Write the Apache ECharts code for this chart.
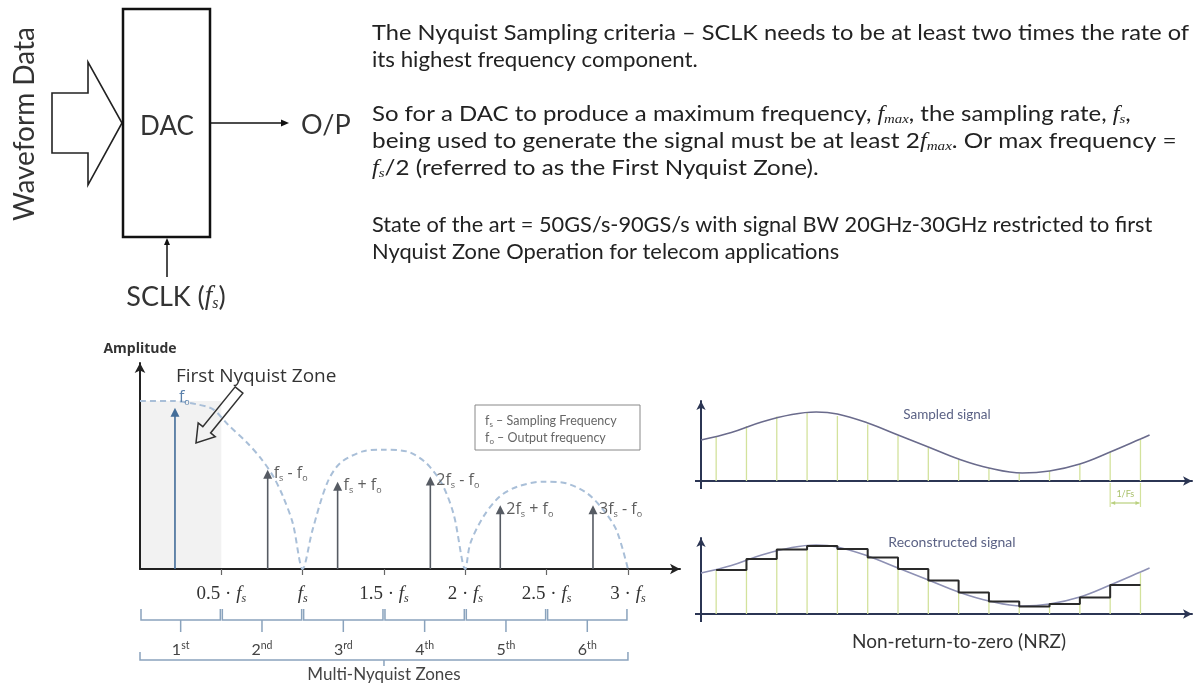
<!DOCTYPE html>
<html><head><meta charset="utf-8">
<script src="https://cdn.jsdelivr.net/npm/echarts@6/dist/echarts.min.js"></script>
<style>html,body{margin:0;padding:0;background:#fff}#c{width:1196px;height:685px}</style>
</head><body><div id="c"></div>
<script>
// ---------- spectrum (units of fs) ----------
const stemLabels = ['f_o', 'f_s - f_o', 'f_s + f_o', '2f_s - f_o', '2f_s + f_o', '3f_s - f_o'];
const stemFreq = [0.215, 0.785, 1.215, 1.785, 2.215, 2.785];
const stemAmp = [0.96, 0.59, 0.52, 0.55, 0.38, 0.38];
const envFreq = [0, 0.2, 0.35, 0.45, 0.54, 0.66, 0.75, 0.82, 0.88, 0.94, 1.0,
  1.06, 1.15, 1.23, 1.37, 1.49, 1.64, 1.76, 1.86, 1.93, 2.0,
  2.03, 2.11, 2.21, 2.32, 2.48, 2.62, 2.75, 2.85, 2.93, 3.0];
const envAmp = [1.0, 1.0, 0.98, 0.95, 0.86, 0.75, 0.65, 0.55, 0.43, 0.27, 0.0,
  0.23, 0.51, 0.63, 0.70, 0.71, 0.70, 0.63, 0.50, 0.32, 0.0,
  0.15, 0.31, 0.43, 0.49, 0.52, 0.51, 0.45, 0.35, 0.23, 0.0];
const freqTicks = [0.5, 1, 1.5, 2, 2.5, 3];
const freqTickPrefix = ['0.5 · ', '', '1.5 · ', '2 · ', '2.5 · ', '3 · '];
const firstZone = [0, 0.5];
const zoneNums = ['1', '2', '3', '4', '5', '6'];
const zoneSuffix = ['st', 'nd', 'rd', 'th', 'th', 'th'];
const legendLines = ['f_s – Sampling Frequency', 'f_o – Output frequency'];

// ---------- sampled / reconstructed signal (time in sample periods) ----------
const sampleT = [0.5, 1.5, 2.5, 3.5, 4.5, 5.5, 6.5, 7.5, 8.5, 9.5, 10.5, 11.5, 12.5, 13.5, 14.5];
const sampleV = [4.4, 5.5, 6.45, 6.8, 6.5, 5.65, 4.5, 3.35, 2.15, 1.25, 0.75, 1.0, 1.65, 2.9, 4.1];
const curveT = [0, 1, 2, 3, 3.8, 4.5, 5.5, 6.5, 7.5, 8.5, 9.5, 10.6, 11.5, 12.5, 13.5, 14.5, 14.8];
const curveV = [4.1, 4.85, 5.9, 6.65, 6.9, 6.7, 5.8, 4.6, 3.4, 2.2, 1.3, 0.8, 1.0, 1.7, 2.9, 4.2, 4.6];

const SANS = 'Lato, "Noto Sans", sans-serif';
const WIDE = '"Open Sans", Lato, sans-serif';
const SERIF = '"Liberation Serif", "DejaVu Serif", serif';

function richSub(label) {
  const parts = []; let buf = '';
  for (let i = 0; i < label.length; i++) {
    if (label[i] === '_') { if (buf) parts.push('{m|' + buf + '}'); buf = ''; parts.push('{b|' + label[i + 1] + '}'); i++; }
    else buf += label[i];
  }
  if (buf) parts.push('{m|' + buf + '}');
  return parts.join('');
}

const chart = echarts.init(document.getElementById('c'));

function hollowArrow(tx, ty, px, py, sw, hw, hl) {
  const dx = px - tx, dy = py - ty, L = Math.hypot(dx, dy);
  const ux = dx / L, uy = dy / L, nx = -uy, ny = ux;
  const bx = px - hl * ux, by = py - hl * uy;
  return [[tx + sw * nx, ty + sw * ny], [bx + sw * nx, by + sw * ny], [bx + hw * nx, by + hw * ny], [px, py],
    [bx - hw * nx, by - hw * ny], [bx - sw * nx, by - sw * ny], [tx - sw * nx, ty - sw * ny]];
}

const textRich = {
  i: { fontFamily: SERIF, fontStyle: 'italic', fontSize: 21, lineHeight: 24, fill: '#222' },
  s: { fontFamily: SERIF, fontStyle: 'italic', fontSize: 13, lineHeight: 10, verticalAlign: 'bottom', fill: '#222' }
};
function para(y, sx, text) {
  return { type: 'text', x: 372, y: y, scaleX: sx, style: { text: text, fontSize: 21, fontFamily: SANS, fill: '#222', verticalAlign: 'middle', rich: textRich } };
}

const graphic = [
  // block diagram
  { type: 'text', x: 25, y: 124, rotation: Math.PI / 2, style: { text: 'Waveform Data', fontSize: 28, fontFamily: SANS, fill: '#333', align: 'center', verticalAlign: 'middle' } },
  { type: 'polygon', shape: { points: [[52, 93], [88, 93], [88, 62], [122, 123], [88, 185], [88, 153], [52, 153]] }, style: { fill: '#fff', stroke: '#222', lineWidth: 1.6 } },
  { type: 'rect', shape: { x: 123, y: 9, width: 87, height: 228 }, style: { fill: 'none', stroke: '#111', lineWidth: 2.5 } },
  { type: 'text', x: 167, y: 127, style: { text: 'DAC', fontSize: 26, fontFamily: SANS, fill: '#333', align: 'center', verticalAlign: 'middle' } },
  { type: 'line', shape: { x1: 211, y1: 123, x2: 282, y2: 123 }, style: { stroke: '#111', lineWidth: 1.5 } },
  { type: 'polygon', shape: { points: [[289, 123], [281, 119.5], [281, 126.5]] }, style: { fill: '#111' } },
  { type: 'text', x: 301, y: 125, style: { text: 'O/P', fontSize: 27, fontFamily: SANS, fill: '#333', verticalAlign: 'middle' } },
  { type: 'line', shape: { x1: 167, y1: 277, x2: 167, y2: 244 }, style: { stroke: '#111', lineWidth: 1.5 } },
  { type: 'polygon', shape: { points: [[167, 238], [164, 245], [170, 245]] }, style: { fill: '#111' } },
  { type: 'text', x: 176, y: 297, style: { text: 'SCLK ({i|f}{s|s})', fontSize: 27, fontFamily: SANS, fill: '#333', align: 'center', verticalAlign: 'middle',
    rich: { i: { fontFamily: SERIF, fontStyle: 'italic', fontSize: 27, lineHeight: 30, fill: '#333' }, s: { fontFamily: SERIF, fontStyle: 'italic', fontSize: 16, lineHeight: 14, verticalAlign: 'bottom', fill: '#333' } } } },
  // explanatory text
  para(33, 1.124, 'The Nyquist Sampling criteria – SCLK needs to be at least two times the rate of'),
  para(60, 1.06, 'its highest frequency component.'),
  para(114, 1.14, 'So for a DAC to produce a maximum frequency, {i|f}{s|max}, the sampling rate, {i|f}{s|s},'),
  para(141, 1.16, 'being used to generate the signal must be at least 2{i|f}{s|max}. Or max frequency ='),
  para(168, 1.15, '{i|f}{s|s}/2 (referred to as the First Nyquist Zone).'),
  para(225, 1.035, 'State of the art = 50GS/s-90GS/s with signal BW 20GHz-30GHz restricted to first'),
  para(252, 1.04, 'Nyquist Zone Operation for telecom applications'),
  // spectrum annotations
  { type: 'text', x: 176, y: 377, style: { text: 'First Nyquist Zone', fontSize: 19, fontFamily: WIDE, fill: '#333', verticalAlign: 'middle' } },
  { type: 'polygon', shape: { points: hollowArrow(239, 390, 196, 443, 5, 11, 17) }, style: { fill: '#fff', stroke: '#333', lineWidth: 1.5 } },
  { type: 'rect', shape: { x: 475, y: 405, width: 165, height: 45 }, style: { fill: '#fff', stroke: '#888', lineWidth: 1 } },
  { type: 'text', x: 485, y: 421, style: { text: richSub(legendLines[0]), verticalAlign: 'middle',
    rich: { m: { fontSize: 12.5, fontFamily: SANS, fill: '#666', lineHeight: 14 }, b: { fontSize: 8, fontFamily: SANS, fill: '#666', lineHeight: 8, verticalAlign: 'bottom' } } } },
  { type: 'text', x: 485, y: 438, style: { text: richSub(legendLines[1]), verticalAlign: 'middle',
    rich: { m: { fontSize: 12.5, fontFamily: SANS, fill: '#666', lineHeight: 14 }, b: { fontSize: 8, fontFamily: SANS, fill: '#666', lineHeight: 8, verticalAlign: 'bottom' } } } },
  // right panel texts
  { type: 'text', x: 947, y: 415, style: { text: 'Sampled signal', fontSize: 13.5, fontFamily: SANS, fill: '#5b6285', align: 'center', verticalAlign: 'middle' } },
  { type: 'text', x: 952, y: 542, style: { text: 'Reconstructed signal', fontSize: 14, fontFamily: SANS, fill: '#5b6285', align: 'center', verticalAlign: 'middle' } },
  { type: 'text', x: 959, y: 642, style: { text: 'Non-return-to-zero (NRZ)', fontSize: 19, fontFamily: SANS, fill: '#333', align: 'center', verticalAlign: 'middle' } }
];

const axisDark = { show: true, symbol: ['none', 'arrow'], symbolSize: [8, 10], lineStyle: { color: '#222', width: 2 } };
const axisNavy = { show: true, symbol: ['none', 'arrow'], symbolSize: [7, 9], lineStyle: { color: '#2b3553', width: 2 } };
const hiddenBits = { axisTick: { show: false }, axisLabel: { show: false }, splitLine: { show: false } };

function stemItem(color) {
  return (params, api) => {
    const b = api.coord([api.value(0), 0]), t = api.coord([api.value(0), api.value(1)]);
    return { type: 'line', shape: { x1: b[0], y1: b[1], x2: t[0], y2: t[1] }, style: { stroke: color, lineWidth: 1.3 } };
  };
}
function originOverhang(params, api) {
  const o = api.coord([0, 0]);
  return { type: 'group', children: [
    { type: 'line', shape: { x1: o[0] - 6, y1: o[1], x2: o[0], y2: o[1] }, style: { stroke: '#2b3553', lineWidth: 2 } },
    { type: 'line', shape: { x1: o[0], y1: o[1], x2: o[0], y2: o[1] + 8 }, style: { stroke: '#2b3553', lineWidth: 2 } }
  ] };
}

const option = {
  animation: false,
  backgroundColor: '#fff',
  graphic: graphic,
  grid: [
    { left: 140, top: 363, width: 540, height: 206 },
    { left: 701, top: 401, width: 491, height: 80 },
    { left: 701, top: 538, width: 491, height: 76 }
  ],
  xAxis: [
    { gridIndex: 0, type: 'value', min: 0, max: 3.32, interval: 0.5, axisLine: axisDark, splitLine: { show: false },
      axisTick: { show: true, customValues: freqTicks, length: 6, lineStyle: { color: '#666', width: 1.2 } },
      axisLabel: { show: true, customValues: freqTicks, margin: 14,
        formatter: v => { const i = freqTicks.indexOf(v); return (freqTickPrefix[i] ? '{n|' + freqTickPrefix[i] + '}' : '') + '{f|f}{s|s}'; },
        rich: { n: { fontFamily: SERIF, fontSize: 19, color: '#333', lineHeight: 22 },
                f: { fontFamily: SERIF, fontStyle: 'italic', fontSize: 19, color: '#333', lineHeight: 22 },
                s: { fontFamily: SERIF, fontStyle: 'italic', fontSize: 12, color: '#333', lineHeight: 10, verticalAlign: 'bottom' } } } },
    Object.assign({ gridIndex: 1, type: 'value', min: 0, max: 16.2, axisLine: axisNavy }, hiddenBits),
    Object.assign({ gridIndex: 2, type: 'value', min: 0, max: 16.2, axisLine: axisNavy }, hiddenBits)
  ],
  yAxis: [
    Object.assign({ gridIndex: 0, type: 'value', min: 0, max: 1.226, axisLine: axisDark,
      name: 'Amplitude', nameLocation: 'end', nameGap: 7,
      nameTextStyle: { fontFamily: WIDE, fontWeight: 'bold', fontSize: 14, color: '#333', align: 'center' } }, hiddenBits),
    Object.assign({ gridIndex: 1, type: 'value', min: 0, max: 8, axisLine: axisNavy }, hiddenBits),
    Object.assign({ gridIndex: 2, type: 'value', min: 0, max: 7.6, axisLine: axisNavy }, hiddenBits)
  ],
  series: [
    { type: 'line', xAxisIndex: 0, yAxisIndex: 0, data: envFreq.map((f, i) => [f, envAmp[i]]), smooth: 0.3,
      symbol: 'none', lineStyle: { color: '#a9bfd8', width: 2, type: [6, 4] }, z: 2,
      markArea: { silent: true, itemStyle: { color: 'rgba(0,0,0,0.05)' },
        data: [[{ xAxis: firstZone[0], yAxis: 0 }, { xAxis: firstZone[1], yAxis: envAmp[0] }]] } },
    { type: 'custom', xAxisIndex: 0, yAxisIndex: 0, z: 5, data: stemFreq.map((f, i) => [f, stemAmp[i]]),
      renderItem: (params, api) => {
        const i = params.dataIndex;
        const x = api.value(0), a = api.value(1);
        const b = api.coord([x, 0]), t = api.coord([x, a]);
        const col = i === 0 ? '#436d99' : '#565b63';
        const lcol = i === 0 ? '#5a80aa' : '#5e5e5e';
        const lx = i === 0 ? t[0] + 4 : t[0] + 6;
        const ly = i === 0 ? t[1] - 10 : t[1] + 4;
        return { type: 'group', children: [
          { type: 'line', shape: { x1: b[0], y1: b[1], x2: t[0], y2: t[1] + 6 }, style: { stroke: col, lineWidth: 1.6 } },
          { type: 'polygon', shape: { points: [[t[0], t[1]], [t[0] - 4.5, t[1] + 9], [t[0] + 4.5, t[1] + 9]] }, style: { fill: col } },
          { type: 'text', x: lx, y: ly, style: { text: richSub(stemLabels[i]), verticalAlign: 'middle', align: 'left',
            rich: { m: { fontSize: 16, fontFamily: WIDE, fill: lcol, lineHeight: 19 },
                    b: { fontSize: 9, fontFamily: WIDE, fill: lcol, lineHeight: 9, verticalAlign: 'bottom' } } } }
        ] };
      } },
    { type: 'custom', xAxisIndex: 0, yAxisIndex: 0, clip: false, z: 3,
      data: zoneNums.map((n, i) => [i === 0 ? 0 : freqTicks[i - 1], freqTicks[i]]),
      renderItem: (params, api) => {
        const i = params.dataIndex;
        const a = api.coord([api.value(0), 0]), b = api.coord([api.value(1), 0]);
        const y0 = a[1], yl = y0 + 51, yu = y0 + 40, yd = y0 + 63, cx = (a[0] + b[0]) / 2;
        const col = '#8aa3bd';
        return { type: 'group', children: [
          { type: 'polyline', shape: { points: [[a[0] + 1, yu], [a[0] + 1, yl], [b[0] - 1, yl], [b[0] - 1, yu]] }, style: { stroke: col, lineWidth: 1.5, fill: null } },
          { type: 'line', shape: { x1: cx, y1: yl, x2: cx, y2: yd }, style: { stroke: col, lineWidth: 1.5 } },
          { type: 'text', x: cx, y: y0 + 81, style: { text: '{n|' + zoneNums[i] + '}{p|' + zoneSuffix[i] + '}', align: 'center', verticalAlign: 'middle',
            rich: { n: { fontSize: 16, fontFamily: SANS, fill: '#444', lineHeight: 19 },
                    p: { fontSize: 10.5, fontFamily: SANS, fill: '#444', lineHeight: 10, verticalAlign: 'top' } } } }
        ] };
      } },
    { type: 'custom', xAxisIndex: 0, yAxisIndex: 0, clip: false, z: 3,
      data: [[0, freqTicks[freqTicks.length - 1]]],
      renderItem: (params, api) => {
        const a = api.coord([api.value(0), 0]), b = api.coord([api.value(1), 0]);
        const y0 = a[1], yl = y0 + 91, yu = y0 + 83, cx = (a[0] + b[0]) / 2;
        const col = '#8aa3bd';
        return { type: 'group', children: [
          { type: 'polyline', shape: { points: [[a[0], yu], [a[0], yl], [b[0], yl], [b[0], yu]] }, style: { stroke: col, lineWidth: 1.5, fill: null } },
          { type: 'line', shape: { x1: cx, y1: yl, x2: cx, y2: yl + 6 }, style: { stroke: col, lineWidth: 1.5 } },
          { type: 'text', x: cx, y: y0 + 106, style: { text: 'Multi-Nyquist Zones', fontSize: 17, fontFamily: SANS, fill: '#444', align: 'center', verticalAlign: 'middle' } }
        ] };
      } },
    // sampled signal panel
    { type: 'custom', xAxisIndex: 1, yAxisIndex: 1, z: 2, data: sampleT.map((t, i) => [t, sampleV[i]]), renderItem: stemItem('#d3e29c') },
    { type: 'custom', xAxisIndex: 1, yAxisIndex: 1, z: 6, clip: false, data: [[0, 0]], renderItem: originOverhang },
    { type: 'line', xAxisIndex: 1, yAxisIndex: 1, z: 3, data: curveT.map((t, i) => [t, curveV[i]]), smooth: 0.4,
      symbol: 'none', lineStyle: { color: '#6a6b8c', width: 1.6 } },
    { type: 'custom', xAxisIndex: 1, yAxisIndex: 1, clip: false, z: 3,
      data: [[sampleT[sampleT.length - 2], sampleT[sampleT.length - 1]]],
      renderItem: (params, api) => {
        const a = api.coord([api.value(0), 0]), b = api.coord([api.value(1), 0]);
        const y0 = a[1], col = '#b9d07e', cx = (a[0] + b[0]) / 2;
        return { type: 'group', children: [
          { type: 'line', shape: { x1: a[0], y1: y0 + 2, x2: a[0], y2: y0 + 26 }, style: { stroke: '#d3e29c', lineWidth: 1.2 } },
          { type: 'line', shape: { x1: b[0], y1: y0 + 2, x2: b[0], y2: y0 + 26 }, style: { stroke: '#d3e29c', lineWidth: 1.2 } },
          { type: 'line', shape: { x1: a[0] + 1, y1: y0 + 22, x2: b[0] - 1, y2: y0 + 22 }, style: { stroke: col, lineWidth: 1.2 } },
          { type: 'polygon', shape: { points: [[a[0] + 1, y0 + 22], [a[0] + 5, y0 + 20], [a[0] + 5, y0 + 24]] }, style: { fill: col } },
          { type: 'polygon', shape: { points: [[b[0] - 1, y0 + 22], [b[0] - 5, y0 + 20], [b[0] - 5, y0 + 24]] }, style: { fill: col } },
          { type: 'text', x: cx, y: y0 + 13, style: { text: '1/Fs', fontSize: 9, fontFamily: SANS, fill: '#a9c06a', align: 'center', verticalAlign: 'middle' } }
        ] };
      } },
    // reconstructed signal panel
    { type: 'custom', xAxisIndex: 2, yAxisIndex: 2, z: 2, data: sampleT.map((t, i) => [t, sampleV[i]]), renderItem: stemItem('#d3e29c') },
    { type: 'custom', xAxisIndex: 2, yAxisIndex: 2, z: 6, clip: false, data: [[0, 0]], renderItem: originOverhang },
    { type: 'line', xAxisIndex: 2, yAxisIndex: 2, z: 3, data: curveT.map((t, i) => [t, curveV[i]]), smooth: 0.4,
      symbol: 'none', lineStyle: { color: '#8e91b4', width: 1.6 } },
    { type: 'line', xAxisIndex: 2, yAxisIndex: 2, z: 4, step: 'end', symbol: 'none',
      data: sampleT.slice(0, -1).map((t, i) => [t, sampleV[i]]).concat([[sampleT[sampleT.length - 1], sampleV[sampleV.length - 2]]]),
      lineStyle: { color: '#2a2a2a', width: 2 } }
  ]
};
chart.setOption(option);
</script>
</body></html>
